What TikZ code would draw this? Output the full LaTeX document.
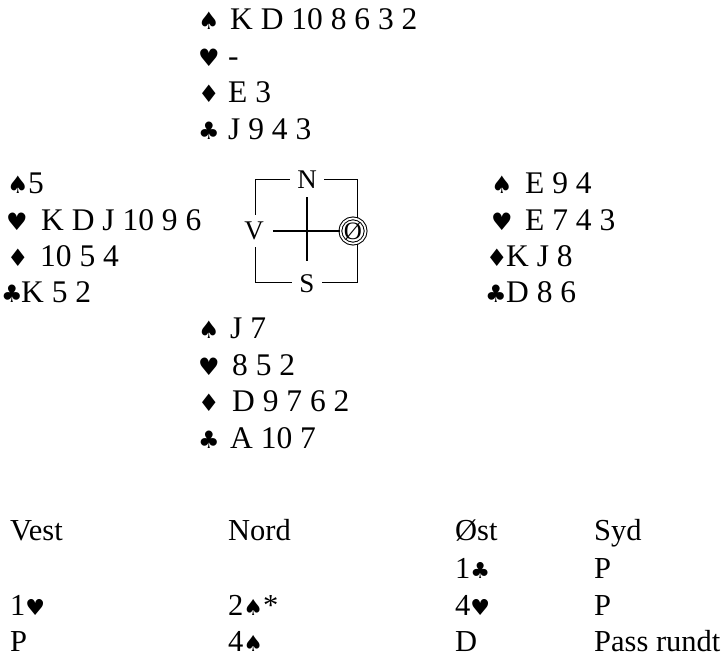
\documentclass[tikz,border=0pt]{standalone}
\usepackage{fontspec}
\setmainfont{Liberation Serif}
\newfontfamily\suitfont{DejaVu Sans}
\newcommand{\sS}{{\suitfont\fontsize{22}{24}\selectfont ♠}}
\newcommand{\sH}{{\suitfont\fontsize{22}{24}\selectfont ♥}}
\newcommand{\sC}{{\suitfont\fontsize{22}{24}\selectfont ♣}}
\begin{document}
\begin{tikzpicture}[x=1pt,y=-1pt,
  txt/.style={anchor=base west, inner sep=0pt, font=\fontsize{31.5}{37}\selectfont},
  bid/.style={anchor=base west, inner sep=0pt, font=\fontsize{30.5}{37}\selectfont},
  suit/.style={anchor=base west, inner sep=0pt, font=\suitfont\fontsize{24}{26}\selectfont},
  cmp/.style={fill=white, inner sep=7pt, font=\fontsize{27}{30}\selectfont},
  boxline/.style={line width=0.9pt},
  crossline/.style={line width=1.5pt}]
\useasboundingbox (0,0) rectangle (722,664);
% North
\node[suit] (ns) at (198,29) {♠};
\node[txt]  (nst) at (230,29) {K D 10 8 6 3 2};
\node[suit] (nh) at (198,66) {♥};
\node[txt]  (nht) at (228,66) {-};
\node[suit] (nd) at (198,102) {♦};
\node[txt]  (ndt) at (228,102) {E 3};
\node[suit] (nc) at (198,139) {♣};
\node[txt]  (nct) at (228,139) {J 9 4 3};
% West
\node[suit] (ws) at (7,193.5) {♠};
\node[txt]  (wst) at (28,193.5) {5};
\node[suit] (wh) at (6,230.5) {♥};
\node[txt]  (wht) at (41,230.5) {K D J 10 9 6};
\node[suit] (wd) at (7,266.5) {♦};
\node[txt]  (wdt) at (40,266.5) {10 5 4};
\node[suit] (wc) at (1,302.5) {♣};
\node[txt]  (wct) at (21,302.5) {K 5 2};
% East
\node[suit] (es) at (491,193.5) {♠};
\node[txt]  (est) at (525,193.5) {E 9 4};
\node[suit] (eh) at (491,230.5) {♥};
\node[txt]  (eht) at (525,230.5) {E 7 4 3};
\node[suit] (ed) at (486,266.5) {♦};
\node[txt]  (edt) at (506,266.5) {K J 8};
\node[suit] (ec) at (485,302.5) {♣};
\node[txt]  (ect) at (506,302.5) {D 8 6};
% South
\node[suit] (ss) at (198,338.5) {♠};
\node[txt]  (sst) at (230,338.5) {J 7};
\node[suit] (sh) at (198,375.5) {♥};
\node[txt]  (sht) at (232,375.5) {8 5 2};
\node[suit] (sd) at (198,411.5) {♦};
\node[txt]  (sdt) at (232,411.5) {D 9 7 6 2};
\node[suit] (sc) at (198,448.5) {♣};
\node[txt]  (sct) at (230,448.5) {A 10 7};
% Compass
\draw[boxline] (255,179) rectangle (357,282);
\node[cmp] (N) at (307,180) {N};
\node[cmp] (S) at (307,284) {S};
\node[cmp] (V) at (254,231) {V};
\node[draw, circle, double, double distance=1.8pt, line width=1pt, fill=white,
      minimum size=25pt, inner sep=0pt, font=\fontsize{25}{28}\selectfont] (O) at (353,231) {Ø};
\draw[crossline, shorten <=1pt, shorten >=7pt] (N) -- (S);
\draw[crossline, shorten <=2pt] (V) -- (O);
% Bidding
\node[bid] (b11) at (10,540.5) {Vest};
\node[bid] (b12) at (228,540.5) {Nord};
\node[bid] (b13) at (455,540.5) {Øst};
\node[bid] (b14) at (594,540.5) {Syd};
\node[bid] (b23) at (455,578.5) {1\sC};
\node[bid] (b24) at (594,578.5) {P};
\node[bid] (b31) at (10,615.5) {1\sH};
\node[bid] (b32) at (228,615.5) {2\sS*};
\node[bid] (b33) at (455,615.5) {4\sH};
\node[bid] (b34) at (594,615.5) {P};
\node[bid] (b41) at (10,651.5) {P};
\node[bid] (b42) at (228,651.5) {4\sS};
\node[bid] (b43) at (455,651.5) {D};
\node[bid] (b44) at (594,651.5) {Pass rundt};
\end{tikzpicture}
\end{document}
